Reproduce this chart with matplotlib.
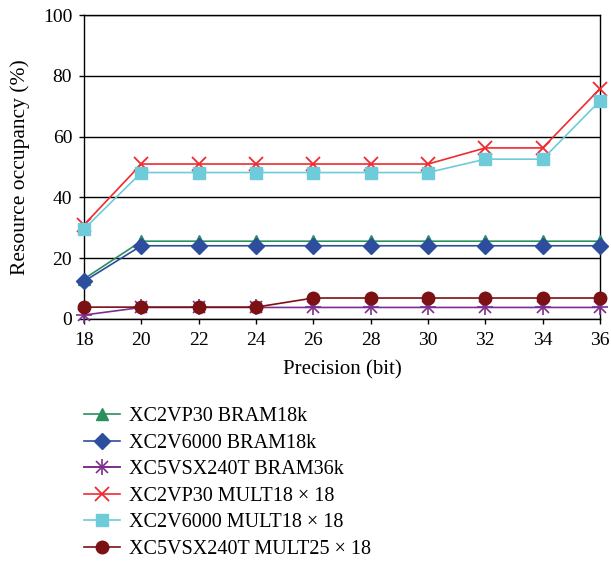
import matplotlib.pyplot as plt
from matplotlib.lines import Line2D
from matplotlib.legend_handler import HandlerTuple

plt.rcParams['font.family'] = ['Liberation Serif', 'DejaVu Serif']

# Precision sweep and resource occupancy (%) per device / resource
precision = [18, 20, 22, 24, 26, 28, 30, 32, 34, 36]
vp30_bram = [13.2, 25.6, 25.6, 25.6, 25.6, 25.6, 25.6, 25.6, 25.6, 25.6]
v6000_bram = [12.4, 24.1, 24.1, 24.1, 24.1, 24.1, 24.1, 24.1, 24.1, 24.1]
sx240_bram = [1.3, 3.8, 3.8, 3.8, 3.8, 3.8, 3.8, 3.8, 3.8, 3.8]
vp30_mult = [31.0, 51.0, 51.0, 51.0, 51.0, 51.0, 51.0, 56.3, 56.3, 75.8]
v6000_mult = [29.6, 48.2, 48.2, 48.2, 48.2, 48.2, 48.2, 52.6, 52.6, 71.8]
sx240_mult = [3.9, 3.9, 3.9, 3.9, 6.9, 6.9, 6.9, 6.9, 6.9, 6.9]

labels = ['XC2VP30 BRAM18k', 'XC2V6000 BRAM18k', 'XC5VSX240T BRAM36k',
          'XC2VP30 MULT18 \u00d7 18', 'XC2V6000 MULT18 \u00d7 18',
          'XC5VSX240T MULT25 \u00d7 18']

fig = plt.figure(figsize=(6.11, 5.61), dpi=100)
ax = fig.add_axes([0.1375, 0.4314, 0.8445, 0.5416])

series = [
    (vp30_bram, '#2a8f5e', '^', 9),
    (v6000_bram, '#2d4d9e', 'D', 8),
    (sx240_bram, '#7d2f8e', '*', 0),
    (vp30_mult, '#ef2a30', 'x', 10),
    (v6000_mult, '#6ecbd9', 's', 8),
    (sx240_mult, '#7b1113', 'o', 9),
]

handles = []
for (vals, col, mk, ms), lab in zip(series, labels):
    if mk == '*':
        # asterisk-style star: plus and x overlaid
        ax.plot(precision, vals, color=col, lw=1.2, zorder=3, clip_on=False)
        ax.plot(precision, vals, ls='none', marker='+', ms=11, mew=1.2,
                color=col, zorder=3, clip_on=False)
        ax.plot(precision, vals, ls='none', marker='x', ms=9, mew=1.2,
                color=col, zorder=3, clip_on=False)
        h = (Line2D([], [], color=col, lw=1.2, marker='+', ms=11, mew=1.2),
             Line2D([], [], color=col, lw=1.2, marker='x', ms=9, mew=1.2))
    else:
        mew = 1.3 if mk == 'x' else 1.0
        ax.plot(precision, vals, color=col, lw=1.2, marker=mk, ms=ms, mew=mew,
                mec=col, mfc=col, zorder=3, clip_on=False)
        h = Line2D([], [], color=col, lw=1.2, marker=mk, ms=ms, mew=mew,
                   mec=col, mfc=col)
    handles.append(h)

ax.set_xlim(18, 36)
ax.set_ylim(0, 100)
ax.set_xticks(precision)
ax.set_yticks([0, 20, 40, 60, 80, 100])
ax.yaxis.grid(True, color='black', lw=1.0)
ax.set_axisbelow(True)
for s in ax.spines.values():
    s.set_linewidth(1.0)
ax.tick_params(labelsize=14, direction='out', length=3.5, width=1.0)
ax.tick_params(axis='x', pad=6)
ax.tick_params(axis='y', pad=5)
ax.set_xlabel('Precision (bit)', fontsize=15, labelpad=8)
ax.set_ylabel('Resource occupancy (%)', fontsize=15.5, labelpad=9)

fig.legend(handles, labels, loc='upper left', bbox_to_anchor=(0.125, 0.289),
           frameon=False, fontsize=14.5, handlelength=1.75, handletextpad=0.45,
           labelspacing=0.37, borderaxespad=0,
           handler_map={tuple: HandlerTuple(ndivide=1)})

fig.savefig('out.png', dpi=100)
